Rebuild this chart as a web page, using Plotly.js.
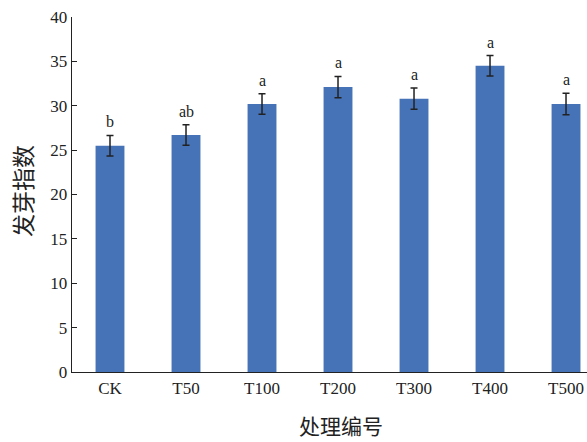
<!DOCTYPE html>
<html>
<head>
<meta charset="utf-8">
<script src="https://cdn.plot.ly/plotly-3.0.1.min.js"></script>
<style>html,body{margin:0;padding:0;background:#fff;}#chart{width:587px;height:442px;}</style>
</head>
<body>
<div id="chart"></div>
<script>
const categories = ["CK", "T50", "T100", "T200", "T300", "T400", "T500"];
const values = [25.5, 26.7, 30.2, 32.1, 30.8, 34.5, 30.2];
const errors = [1.15, 1.15, 1.15, 1.2, 1.2, 1.15, 1.2];
const letters = ["b", "ab", "a", "a", "a", "a", "a"];
const yTitle = "发芽指数";
const xTitle = "处理编号";

const serif = "Liberation Serif, Times New Roman, serif";
const cjk = "Noto Sans CJK SC, sans-serif";

const trace = {
  type: "bar",
  x: categories,
  y: values,
  width: 0.38,
  marker: {color: "#4672B8"},
  error_y: {type: "data", array: errors, visible: true, color: "#222222", thickness: 1.5, width: 3.5},
  hoverinfo: "none"
};

const annotations = categories.map((c, i) => ({
  x: c, y: values[i] + errors[i], xref: "x", yref: "y",
  text: letters[i], showarrow: false, yanchor: "bottom", yshift: 3,
  font: {family: serif, size: 16, color: "#222"}
}));
annotations.push({
  xref: "paper", yref: "paper", x: 0.5, y: 0, xanchor: "center", yanchor: "top",
  xshift: 11, yshift: -37, text: xTitle, showarrow: false, borderpad: 0,
  font: {family: cjk, size: 21, color: "#222"}
});
annotations.push({
  xref: "paper", yref: "paper", x: 0, y: 0.51, xanchor: "center", yanchor: "middle",
  xshift: -50, text: yTitle, textangle: -90, showarrow: false,
  font: {family: cjk, size: 23, color: "#222"}
});

const layout = {
  width: 587, height: 442,
  margin: {l: 72, r: 0, t: 17, b: 70},
  paper_bgcolor: "#fff", plot_bgcolor: "#fff",
  showlegend: false,
  bargap: 0.62,
  xaxis: {
    type: "category", range: [-0.5, 6.276],
    showline: true, linecolor: "#222", linewidth: 1.3,
    ticks: "", showgrid: false, zeroline: false,
    tickfont: {family: serif, size: 17, color: "#222"}
  },
  yaxis: {
    range: [0, 40], dtick: 5, tick0: 0,
    showline: true, linecolor: "#222", linewidth: 1.3,
    ticks: "inside", ticklen: 5, tickcolor: "#222", tickwidth: 1.2,
    showgrid: false, zeroline: false,
    tickfont: {family: serif, size: 17, color: "#222"}
  },
  annotations: annotations
};

Plotly.newPlot("chart", [trace], layout, {staticPlot: true, displayModeBar: false});
</script>
</body>
</html>
